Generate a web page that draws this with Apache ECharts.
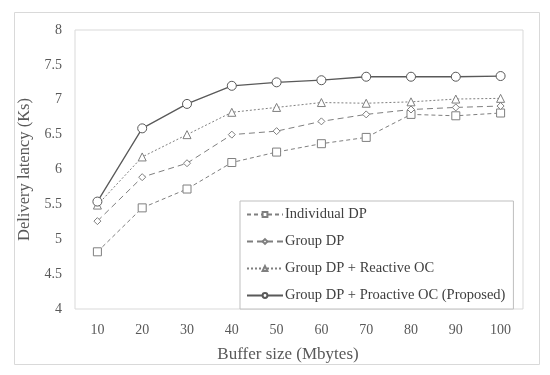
<!DOCTYPE html>
<html>
<head>
<meta charset="utf-8">
<script src="https://cdn.jsdelivr.net/npm/echarts@6/dist/echarts.min.js"></script>
<style>html,body{margin:0;padding:0;background:#fff;}#c{width:550px;height:375px;}</style>
</head>
<body>
<div id="c"></div>
<script>
const categories = ['10','20','30','40','50','60','70','80','90','100'];
const individualDP = [4.82, 5.45, 5.72, 6.10, 6.25, 6.37, 6.46, 6.79, 6.77, 6.81];
const groupDP = [5.26, 5.89, 6.09, 6.50, 6.55, 6.69, 6.79, 6.86, 6.89, 6.91];
const reactiveOC = [5.49, 6.18, 6.50, 6.82, 6.89, 6.96, 6.95, 6.97, 7.01, 7.02];
const proactiveOC = [5.54, 6.59, 6.94, 7.20, 7.25, 7.28, 7.33, 7.33, 7.33, 7.34];
const seriesNames = ['Individual DP','Group DP','Group DP + Reactive OC','Group DP + Proactive OC (Proposed)'];

const font = 'Liberation Serif, Times New Roman, serif';
const chart = echarts.init(document.getElementById('c'));
function mk(name, data, symbol, size, dash, color, width){
  return {name, type:'line', data, symbol, symbolSize:size, showSymbol:true,
    lineStyle:{color, width, type:dash},
    itemStyle:{color:'#fff', borderColor:color, borderWidth:1},
    z: 2};
}
chart.setOption({
  animation:false,
  backgroundColor:'#fff',
  graphic:[{type:'rect', shape:{x:14.5,y:12.5,width:525,height:352}, style:{fill:'none', stroke:'#d9d9d9', lineWidth:1}, z:-1}],
  grid:{left:75, right:27, top:30, bottom:66, show:true, borderColor:'#d9d9d9', borderWidth:1},
  xAxis:{type:'category', data:categories, boundaryGap:true,
    axisLine:{show:false}, axisTick:{show:false}, splitLine:{show:false},
    axisLabel:{fontFamily:font, fontSize:14, color:'#595959', margin:14},
    name:'Buffer size (Mbytes)', nameLocation:'middle', nameGap:37,
    nameTextStyle:{fontFamily:font, fontSize:17, color:'#595959', padding:[0,22,0,0]}},
  yAxis:{type:'value', min:4, max:8, interval:0.5,
    axisLine:{show:false}, axisTick:{show:false}, splitLine:{show:false},
    axisLabel:{fontFamily:font, fontSize:14, color:'#595959', margin:13},
    name:'Delivery latency (Ks)', nameLocation:'middle', nameGap:38,
    nameTextStyle:{fontFamily:font, fontSize:16.5, color:'#595959'}},
  legend:{orient:'vertical', right:27, bottom:66, left:240,
    backgroundColor:'#fff', borderColor:'#bfbfbf', borderWidth:1,
    padding:[6,8,6,6], itemGap:12, itemWidth:36, itemHeight:6,
    textStyle:{fontFamily:font, fontSize:14.5, color:'#404040', padding:[0,0,0,-3]},
    data:seriesNames},
  series:[
    mk(seriesNames[0], individualDP, 'rect', 8, [4,3], '#7f7f7f', 1),
    mk(seriesNames[1], groupDP, 'diamond', 7, [6,4], '#7f7f7f', 1),
    mk(seriesNames[2], reactiveOC, 'triangle', 8, [2,2], '#7f7f7f', 1),
    mk(seriesNames[3], proactiveOC, 'circle', 9, 'solid', '#595959', 1.3)
  ]
});
</script>
</body>
</html>
